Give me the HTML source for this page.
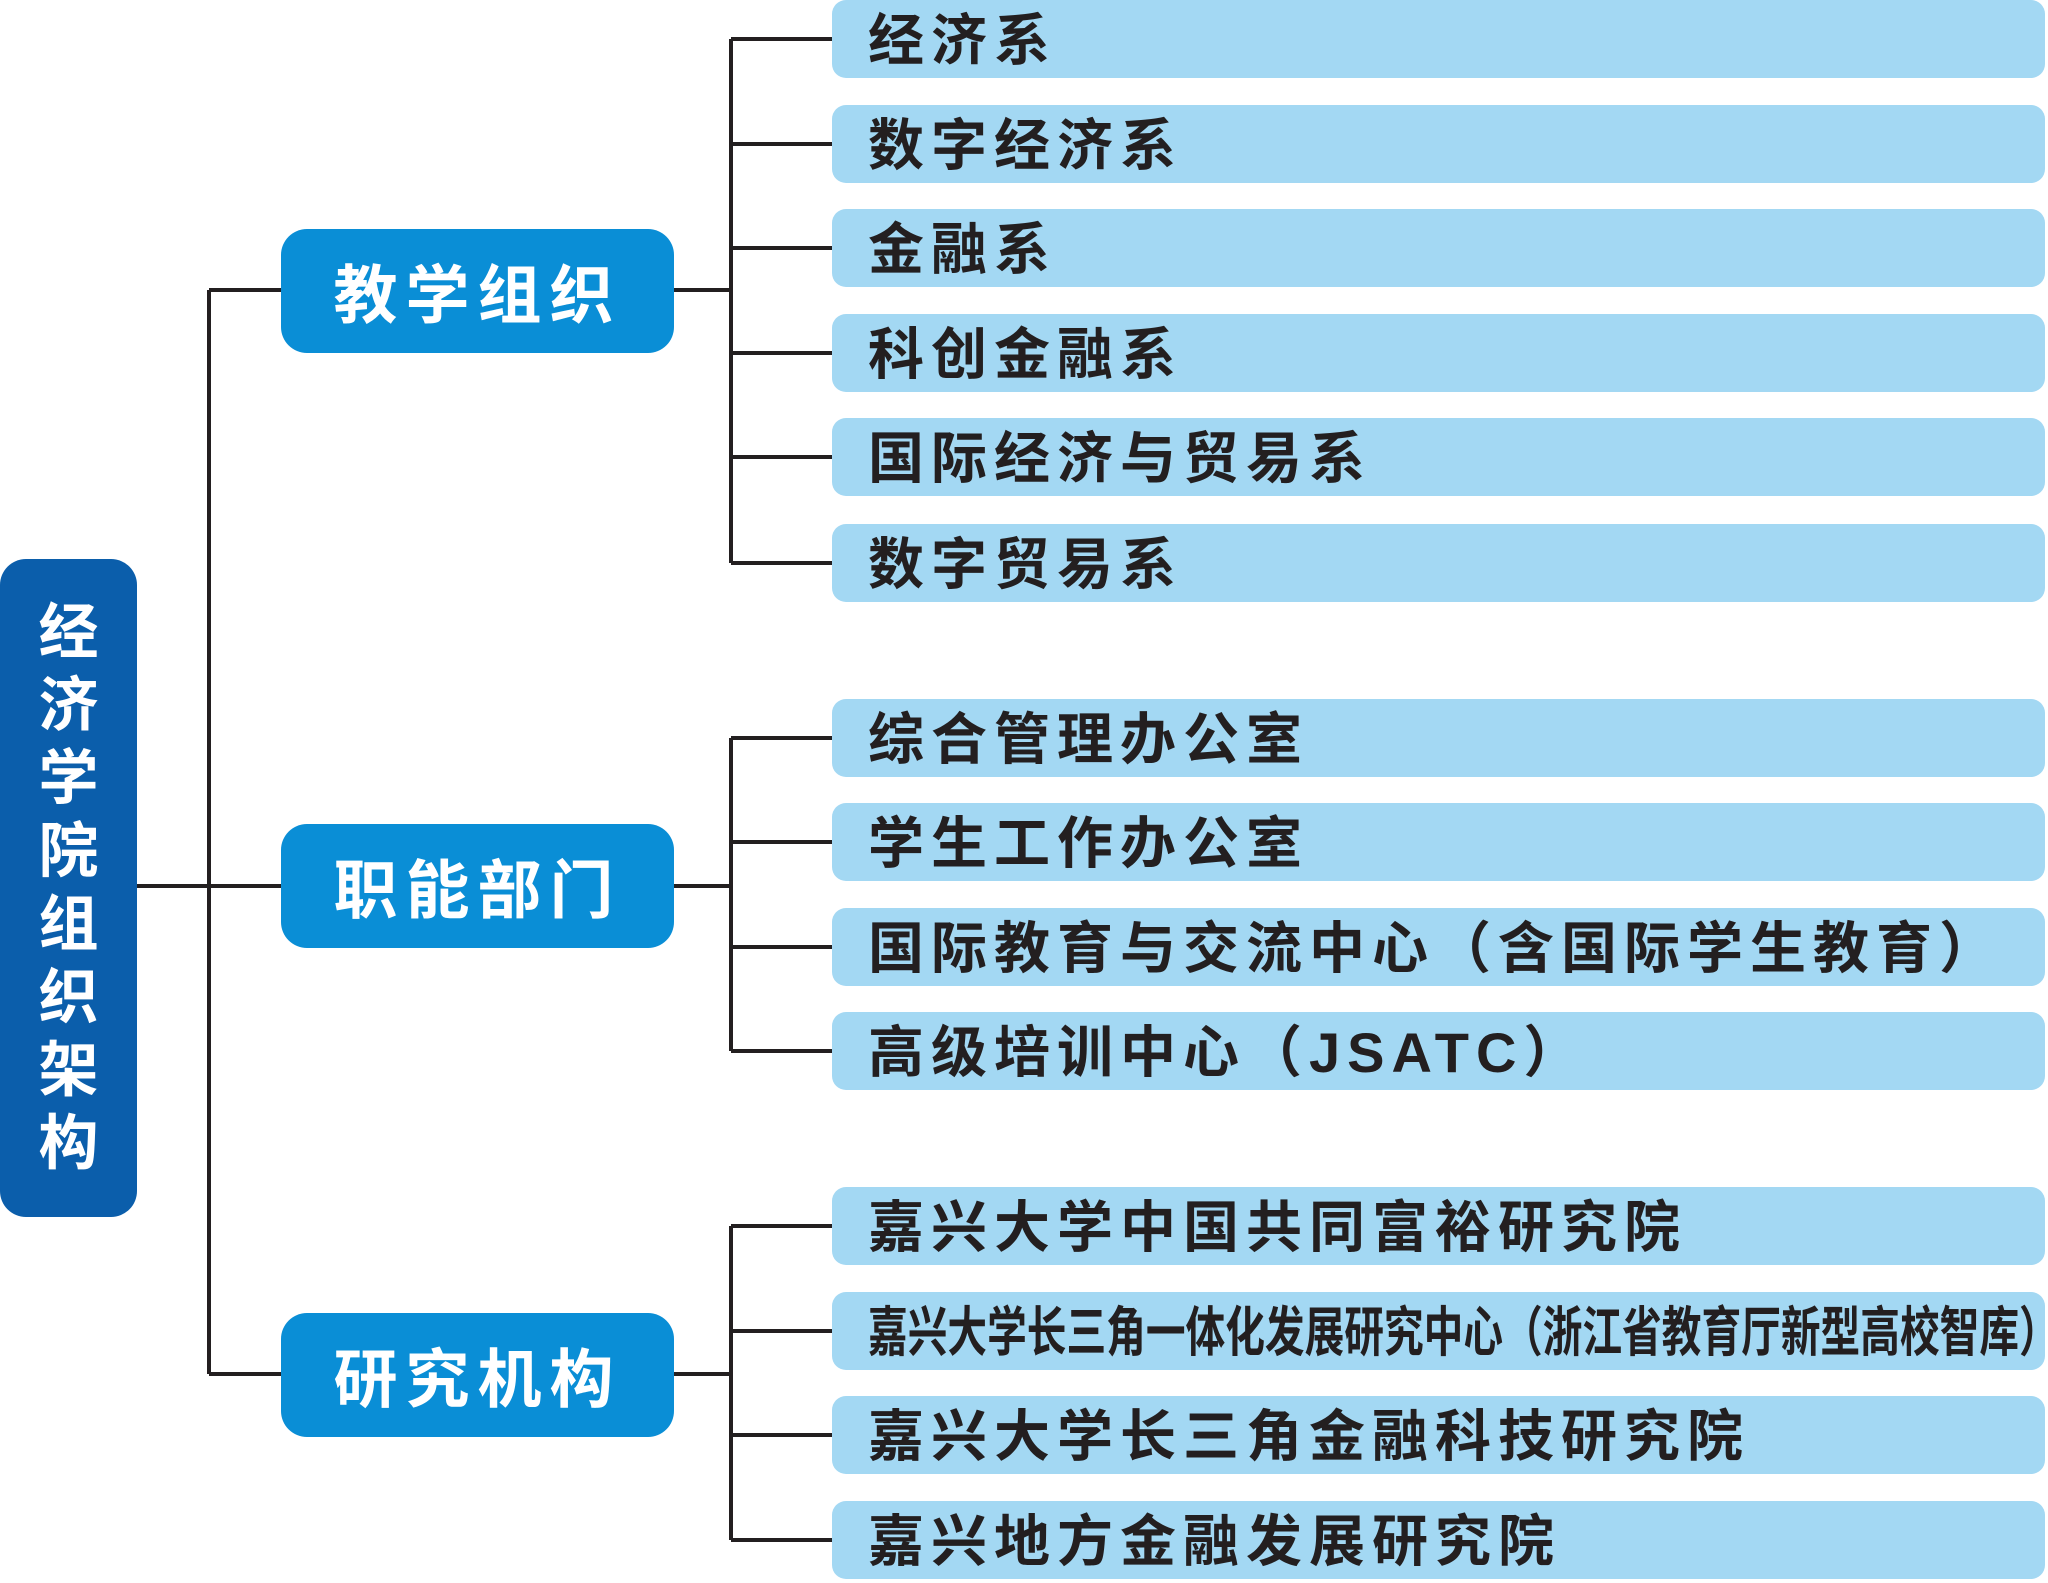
<!DOCTYPE html>
<html><head><meta charset="utf-8"><style>
body{margin:0;width:2048px;height:1581px;background:#fff;position:relative;overflow:hidden;font-family:"Liberation Sans","Noto Sans CJK SC",sans-serif;}
.root{position:absolute;left:0;top:559px;width:137px;height:658px;background:#0b5eab;border-radius:26px;color:#fff;font-weight:bold;font-size:60px;line-height:73px;text-align:center;display:flex;flex-direction:column;justify-content:center;}
.l2{position:absolute;left:281px;width:393px;height:124px;background:#0a8ed6;border-radius:26px;color:#fff;font-weight:bold;font-size:64px;letter-spacing:8px;display:flex;align-items:center;justify-content:center;}
.leaf{position:absolute;left:832px;width:1213px;height:78px;background:#a3d8f3;border-radius:14px;color:#231f20;font-weight:bold;font-size:56px;letter-spacing:7px;line-height:82px;padding-left:36px;box-sizing:border-box;white-space:nowrap;}
svg{position:absolute;left:0;top:0}
</style></head><body>
<svg width="2048" height="1581"><g stroke="#231f20" stroke-width="4" fill="none">
<path d="M137 886H281M209 290V1374M209 290H281M209 1374H281"/>
<path d="M674 290H731M731 39V563M731 39H832M731 144H832M731 248H832M731 353H832M731 457H832M731 563H832"/>
<path d="M674 886H731M731 738V1051M731 738H832M731 842H832M731 947H832M731 1051H832"/>
<path d="M674 1374H731M731 1226V1540M731 1226H832M731 1331H832M731 1435H832M731 1540H832"/>
</g></svg>
<div class="root"><div>经</div><div>济</div><div>学</div><div>院</div><div>组</div><div>织</div><div>架</div><div>构</div></div>
<div class="l2" style="top:229px">教学组织</div>
<div class="l2" style="top:824px">职能部门</div>
<div class="l2" style="top:1313px">研究机构</div>
<div class="leaf" style="top:0px">经济系</div>
<div class="leaf" style="top:105px">数字经济系</div>
<div class="leaf" style="top:209px">金融系</div>
<div class="leaf" style="top:314px">科创金融系</div>
<div class="leaf" style="top:418px">国际经济与贸易系</div>
<div class="leaf" style="top:524px">数字贸易系</div>
<div class="leaf" style="top:699px">综合管理办公室</div>
<div class="leaf" style="top:803px">学生工作办公室</div>
<div class="leaf" style="top:908px">国际教育与交流中心（含国际学生教育）</div>
<div class="leaf" style="top:1012px">高级培训中心（JSATC）</div>
<div class="leaf" style="top:1187px">嘉兴大学中国共同富裕研究院</div>
<div class="leaf" style="top:1292px;letter-spacing:0;font-size:54px"><span style="display:inline-block;transform:scaleX(0.735);transform-origin:left center">嘉兴大学长三角一体化发展研究中心（浙江省教育厅新型高校智库）</span></div>
<div class="leaf" style="top:1396px">嘉兴大学长三角金融科技研究院</div>
<div class="leaf" style="top:1501px">嘉兴地方金融发展研究院</div>
</body></html>
